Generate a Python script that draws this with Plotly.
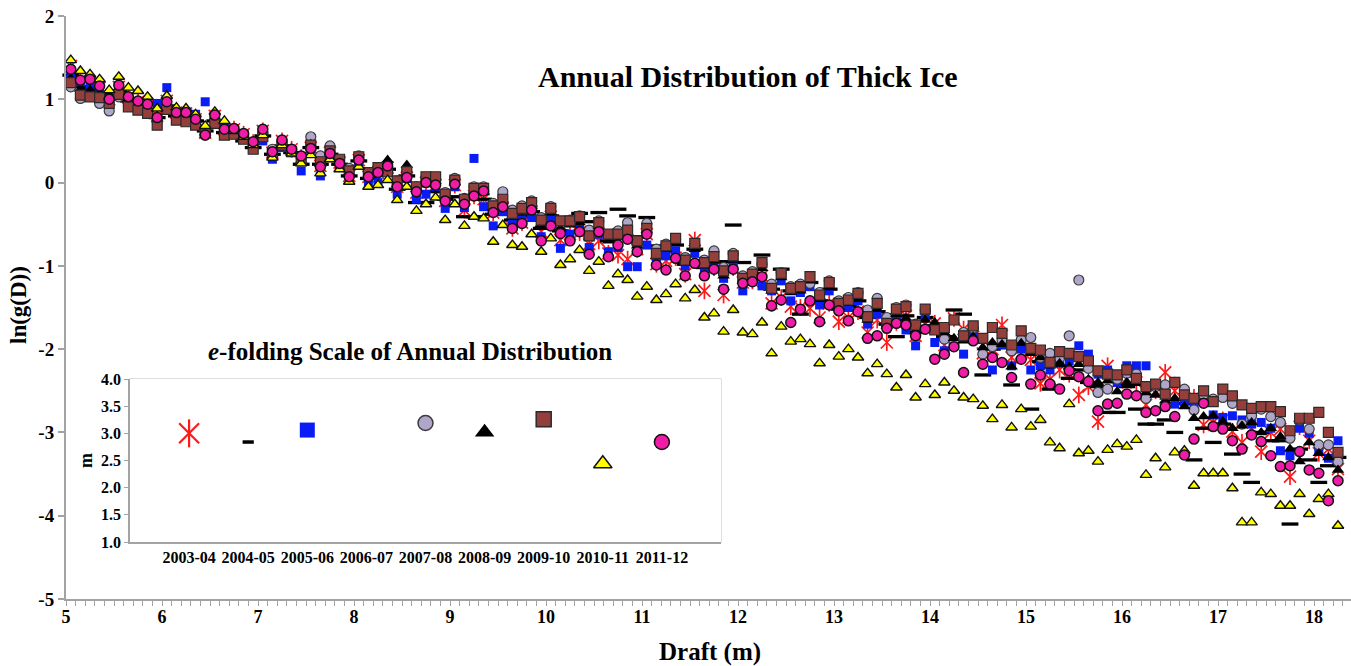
import plotly.graph_objects as go

# Draft bins (m): 0.1 m bins from 5.0 to 18.3, plotted at bin centres
DRAFT = [round(5.05 + 0.1 * i, 2) for i in range(133)]

SEASONS = ["2003-04", "2004-05", "2005-06", "2006-07", "2007-08",
           "2008-09", "2009-10", "2010-11", "2011-12"]

# ln(g(D)) per season, one value per draft bin
LN_G_2003_04 = [
    1.40, 1.20, 1.20, 1.14, 1.00, 1.15, 1.02, 0.97, 0.92, 0.80,
    0.98, 0.84, 0.83, 0.76, 0.60, 0.80, 0.64, 0.64, 0.58, 0.48,
    0.62, 0.36, 0.50, 0.40, 0.30, 0.42, 0.20, 0.36, 0.24, 0.08,
    0.27, 0.07, 0.12, 0.18, -0.05, 0.06, -0.12, 0.00, -0.03, -0.22,
    -0.03, -0.33, -0.16, -0.20, -0.36, -0.30, -0.55, -0.48, -0.35, -0.59,
    -0.41, -0.69, -0.62, -0.60, -0.74, -0.70, -0.85, -0.87, -0.92, -0.80,
    -0.62, -0.98, -0.94, -0.90, -1.10, -0.69, -1.30, -1.02, -1.35,
    -1.02, -1.20, -1.18, -1.12, -1.45, -1.38, -1.49, -1.50, -1.51, -1.62,
    -1.45, -1.67, -1.62, -1.55, -1.80, -1.65, -1.92, -1.68, -1.60, -1.84,
    -1.70, -1.69, -1.95, -1.63, -1.76, -1.85, -2.05, -2.00, -1.71, -2.10,
    -2.05, -2.13, -2.41, -2.36, -2.25, -2.30, -2.55, -2.45, -2.87, -2.20,
    -2.40, -2.35, -2.40, -2.67, -2.50, -2.28, -2.50, -2.60, -2.58, -2.91,
    -2.88, -2.85, -2.99, -3.12, -2.95, -3.23, -3.00, -2.96, -3.53, -2.93,
    -3.10, -3.25, -3.20, -3.44,
]
LN_G_2004_05 = [
    1.29, 1.15, 1.12, 1.08, 1.02, 1.10, 0.98, 0.92, 0.88, 0.78,
    0.92, 0.80, 0.78, 0.74, 0.62, 0.74, 0.60, 0.60, 0.50, 0.42,
    0.56, 0.34, 0.44, 0.36, 0.22, 0.42, 0.22, 0.34, 0.22, 0.08,
    0.26, 0.05, 0.10, 0.16, -0.08, 0.08, -0.24, -0.24, -0.11, -0.20,
    -0.17, -0.41, -0.41, -0.20, -0.38, -0.38, -0.45, -0.40, -0.35, -0.55,
    -0.40, -0.58, -0.52, -0.37, -0.47, -0.36, -0.70, -0.32, -0.40, -0.65,
    -0.42, -0.76, -0.82, -0.75, -0.98, -0.80, -1.02, -0.95, -0.95,
    -0.51, -0.96, -1.12, -0.87, -1.28, -1.04, -1.30, -1.58, -1.20, -1.42,
    -1.28, -1.52, -1.48, -1.42, -1.62, -1.55, -1.70, -1.85, -1.60, -1.80,
    -1.62, -1.72, -1.85, -1.53, -1.58, -1.88, -2.31, -2.00, -1.98, -2.43,
    -2.00, -2.72, -2.15, -2.48, -2.20, -2.35, -2.25, -2.40, -2.45, -2.76,
    -2.76, -2.45, -2.72, -2.90, -2.90, -2.85, -3.00, -2.65, -3.33, -2.95,
    -3.12, -2.90, -3.26, -3.50, -3.60, -3.00, -3.10, -3.10, -4.10, -3.20,
    -3.33, -3.60, -3.40, -3.30,
]
LN_G_2005_06 = [
    1.31, 1.21, 1.16, 1.12, 1.02, 1.12, 0.97, 0.93, 0.90, 0.95,
    1.14, 0.80, 0.85, 0.82, 0.97, 0.72, 0.68, 0.60, 0.55, 0.45,
    0.50, 0.28, 0.42, 0.36, 0.14, 0.40, 0.08, 0.30, 0.18, 0.05,
    0.22, -0.02, 0.00, 0.15, -0.14, 0.05, -0.20, -0.14, -0.05, -0.31,
    -0.05, -0.30, 0.29, -0.29, -0.52, -0.35, -0.50, -0.45, -0.42, -0.65,
    -0.45, -0.79, -0.62, -0.55, -0.78, -0.62, -0.83, -0.78, -1.01, -1.01,
    -0.75, -0.90, -0.88, -0.82, -1.00, -0.85, -1.05, -0.98, -1.15,
    -0.97, -1.30, -1.15, -1.24, -1.30, -1.18, -1.42, -1.32, -1.25, -1.47,
    -1.30, -1.50, -1.50, -1.42, -1.70, -1.58, -1.62, -1.65, -1.77, -1.96,
    -1.62, -1.92, -2.02, -1.95, -2.06, -1.85, -2.05, -2.25, -1.95, -2.20,
    -2.00, -2.25, -2.20, -2.25, -2.15, -2.14, -1.96, -2.06, -2.30, -2.25,
    -2.40, -2.20, -2.20, -2.20, -2.45, -2.55, -2.66, -2.63, -2.70, -2.62,
    -2.79, -2.82, -2.80, -2.85, -2.90, -2.88, -2.95, -3.22, -3.28, -2.95,
    -3.01, -3.21, -3.31, -3.10,
]
LN_G_2007_08 = [
    1.15, 1.01, 1.05, 0.95, 0.86, 1.03, 0.92, 0.90, 0.85, 0.74,
    0.92, 0.80, 0.78, 0.72, 0.62, 0.76, 0.62, 0.61, 0.55, 0.45,
    0.60, 0.40, 0.48, 0.40, 0.30, 0.55, 0.32, 0.44, 0.27, 0.17,
    0.32, 0.12, 0.18, 0.22, 0.02, 0.12, -0.05, 0.06, 0.05, -0.12,
    0.05, -0.19, -0.05, -0.05, -0.25, -0.11, -0.33, -0.28, -0.22, -0.42,
    -0.29, -0.51, -0.45, -0.40, -0.57, -0.46, -0.65, -0.58, -0.48, -0.73,
    -0.49, -0.80, -0.74, -0.68, -0.90, -0.75, -0.93, -0.82, -1.02,
    -0.85, -1.12, -1.07, -0.98, -1.22, -1.08, -1.25, -1.22, -1.21, -1.32,
    -1.18, -1.42, -1.38, -1.32, -1.53, -1.39, -1.62, -1.50, -1.47, -1.70,
    -1.53, -1.73, -1.88, -1.92, -1.80, -1.75, -2.06, -1.97, -1.89, -2.02,
    -1.89, -1.86, -2.10, -2.05, -2.11, -1.84, -1.17, -2.23, -2.52, -2.48,
    -2.36, -2.29, -2.30, -2.59, -2.45, -2.43, -2.40, -2.48, -2.73, -2.55,
    -2.60, -2.58, -2.65, -2.90, -2.80, -2.72, -2.81, -2.88, -3.07, -2.85,
    -2.96, -3.15, -3.15, -3.35,
]
LN_G_2008_09 = [
    1.25, 1.12, 1.11, 1.07, 1.05, 1.13, 1.00, 0.95, 0.90, 0.80,
    0.93, 0.82, 0.80, 0.75, 0.60, 0.76, 0.62, 0.62, 0.53, 0.44,
    0.58, 0.35, 0.46, 0.38, 0.24, 0.46, 0.22, 0.36, 0.24, 0.12,
    0.29, 0.08, 0.14, 0.27, -0.02, 0.21, -0.08, 0.02, 0.02, -0.17,
    0.00, -0.22, -0.10, -0.12, -0.30, -0.22, -0.40, -0.35, -0.28, -0.50,
    -0.36, -0.55, -0.50, -0.48, -0.66, -0.52, -0.70, -0.66, -0.60, -0.76,
    -0.57, -0.88, -0.80, -0.73, -0.97, -0.80, -1.00, -0.94, -1.12,
    -0.93, -1.18, -1.13, -1.03, -1.30, -1.14, -1.32, -1.30, -1.18, -1.40,
    -1.26, -1.50, -1.45, -1.40, -1.65, -1.52, -1.72, -1.58, -1.63, -1.78,
    -1.65, -1.68, -1.80, -1.87, -1.90, -1.85, -1.98, -1.92, -1.94, -2.21,
    -1.93, -2.05, -2.10, -2.20, -2.17, -2.21, -2.18, -2.36, -2.40, -2.38,
    -2.51, -2.40, -2.41, -2.52, -2.55, -2.62, -2.59, -2.69, -2.83, -2.81,
    -2.80, -2.87, -2.95, -2.92, -2.88, -3.00, -2.95, -3.05, -3.20, -3.35,
    -3.12, -3.25, -3.30, -3.45,
]
LN_G_2009_10 = [
    1.20, 1.05, 1.03, 1.02, 0.95, 1.06, 0.91, 0.87, 0.83, 0.69,
    0.88, 0.75, 0.73, 0.69, 0.60, 0.71, 0.57, 0.58, 0.52, 0.40,
    0.55, 0.35, 0.45, 0.37, 0.28, 0.45, 0.25, 0.38, 0.28, 0.14,
    0.31, 0.12, 0.18, 0.13, 0.02, 0.13, -0.05, 0.07, 0.07, -0.14,
    0.03, -0.20, -0.07, -0.07, -0.28, -0.20, -0.37, -0.31, -0.24, -0.45,
    -0.31, -0.46, -0.46, -0.41, -0.64, -0.48, -0.62, -0.62, -0.57, -0.70,
    -0.55, -0.85, -0.76, -0.67, -0.93, -0.73, -0.96, -0.89, -1.06,
    -0.88, -1.15, -1.10, -0.96, -1.27, -1.09, -1.27, -1.25, -1.13, -1.35,
    -1.20, -1.45, -1.41, -1.33, -1.61, -1.45, -1.69, -1.52, -1.49, -1.71,
    -1.52, -1.77, -1.74, -1.65, -1.84, -1.72, -1.87, -1.74, -1.81, -1.95,
    -1.78, -1.99, -2.01, -2.16, -2.03, -2.05, -2.09, -2.14, -2.26, -2.30,
    -2.31, -2.25, -2.35, -2.45, -2.42, -2.54, -2.40, -2.55, -2.59, -2.50,
    -2.63, -2.48, -2.56, -2.67, -2.71, -2.69, -2.69, -2.75, -2.98, -2.83,
    -2.83, -2.76, -3.00, -3.24,
]
LN_G_2010_11 = [
    1.47, 1.34, 1.30, 1.24, 1.11, 1.27, 1.14, 1.10, 1.03, 0.89,
    1.04, 0.90, 0.89, 0.82, 0.68, 0.85, 0.74, 0.62, 0.55, 0.45,
    0.57, 0.30, 0.45, 0.35, 0.23, 0.33, 0.11, 0.28, 0.16, 0.01,
    0.19, -0.05, -0.03, 0.03, -0.21, -0.05, -0.34, -0.26, -0.18, -0.45,
    -0.26, -0.52, -0.41, -0.43, -0.71, -0.51, -0.75, -0.77, -0.62, -0.83,
    -0.67, -0.99, -0.92, -0.81, -1.06, -0.95, -1.24, -1.10, -1.17, -1.37,
    -1.25, -1.41, -1.34, -1.22, -1.39, -1.29, -1.62, -1.57, -1.79,
    -1.53, -1.80, -1.82, -1.68, -2.05, -1.73, -1.91, -1.88, -1.94, -2.17,
    -1.95, -2.09, -2.00, -2.10, -2.29, -2.18, -2.30, -2.46, -2.31, -2.58,
    -2.42, -2.55, -2.40, -2.50, -2.58, -2.60, -2.68, -2.84, -2.67, -2.94,
    -2.72, -2.93, -2.85, -3.12, -3.19, -2.66, -3.25, -3.22, -3.35, -3.21,
    -3.14, -3.17, -3.09, -3.51, -3.31, -3.42, -3.24, -3.22, -3.64, -3.49,
    -3.49, -3.49, -3.67, -4.08, -4.08, -3.72, -3.74, -3.88, -3.88, -3.74,
    -3.98, -3.80, -3.74, -4.12,
]
LN_G_2011_12 = [
    1.36, 1.23, 1.24, 1.16, 1.00, 1.17, 1.03, 0.98, 0.94, 0.78,
    0.97, 0.84, 0.84, 0.76, 0.57, 0.81, 0.64, 0.65, 0.59, 0.49,
    0.64, 0.37, 0.51, 0.40, 0.32, 0.41, 0.19, 0.35, 0.23, 0.07,
    0.27, 0.07, 0.12, 0.20, -0.05, 0.06, -0.11, 0.00, -0.03, -0.22,
    -0.02, -0.26, -0.16, -0.10, -0.36, -0.29, -0.55, -0.49, -0.33, -0.70,
    -0.52, -0.61, -0.70, -0.59, -0.86, -0.59, -0.89, -0.75, -0.68, -0.83,
    -0.62, -0.99, -1.05, -0.91, -1.12, -0.97, -1.12, -1.04, -1.28,
    -1.04, -1.21, -1.19, -1.13, -1.48, -1.41, -1.68, -1.52, -1.42, -1.67,
    -1.47, -1.54, -1.66, -1.55, -1.87, -1.84, -1.75, -1.69, -1.71, -1.84,
    -1.76, -2.12, -2.06, -1.97, -2.28, -1.90, -2.18, -2.10, -2.16, -2.34,
    -2.12, -2.42, -2.31, -2.42, -2.48, -2.26, -2.33, -2.39, -2.74, -2.66,
    -2.65, -2.54, -2.56, -2.76, -2.74, -2.69, -2.81, -3.27, -3.08, -2.65,
    -2.93, -2.96, -3.10, -3.20, -3.03, -3.11, -3.28, -3.41, -3.40, -3.23,
    -3.45, -3.49, -3.82, -3.58,
]

# e-folding scale (m) of each season's distribution; 2006-07 has no data
EFOLD_M = [3.00, 2.84, 3.06, None, 3.19, 3.02, 3.26, 2.44, 2.84]

SERIES = {
    "2003-04": LN_G_2003_04,
    "2004-05": LN_G_2004_05,
    "2005-06": LN_G_2005_06,
    "2007-08": LN_G_2007_08,
    "2008-09": LN_G_2008_09,
    "2009-10": LN_G_2009_10,
    "2010-11": LN_G_2010_11,
    "2011-12": LN_G_2011_12,
}

FONT = "Liberation Serif"
AXIS_GREY = "#a3a3a3"

# marker look per season:
# (symbols, fill, edge colour, edge width main, edge width inset, size main, size inset)
STYLE = {
    "2003-04": (["x-thin-open", "line-ns-open"], "#ff1a1a", "#ff1a1a", 1.7, 2.2, 12, 20),
    "2004-05": (["line-ew-open"], "#000000", "#000000", 3.3, 3.5, 12, 8),
    "2005-06": (["square"], "#0a1cf5", "#0a1cf5", 0, 0, 9, 15),
    "2007-08": (["circle"], "#b0a6c9", "#3a3a3a", 1.2, 1.5, 10, 15),
    "2008-09": (["triangle-up"], "#000000", "#000000", 0, 0, 11, 17),
    "2009-10": (["square"], "#943f3b", "#2a2a2a", 1.2, 1.5, 10, 15),
    "2010-11": (["triangle-up"], "#ffff00", "#111111", 1.4, 1.5, 10, 16),
    "2011-12": (["circle"], "#f01ca6", "#111111", 1.5, 1.5, 10, 15),
}

fig = go.Figure()


def marker(symbol, fill, edge, width, size):
    if symbol.endswith("-open"):
        return dict(symbol=symbol, size=size, color=edge,
                    line=dict(color=edge, width=width))
    return dict(symbol=symbol, size=size, color=fill,
                line=dict(color=edge, width=width))


# main scatter: draft vs ln(g(D))
for season, values in SERIES.items():
    symbols, fill, edge, width, _, size, _ = STYLE[season]
    for sym in symbols:
        fig.add_trace(go.Scatter(
            x=DRAFT, y=values, mode="markers", name=season,
            marker=marker(sym, fill, edge, width, size),
            cliponaxis=False, showlegend=False, hoverinfo="x+y+name",
        ))

# inset: e-folding scale per season
for season, value in zip(SEASONS, EFOLD_M):
    if value is None:
        continue
    symbols, fill, edge, _, width, _, size = STYLE[season]
    for sym in symbols:
        fig.add_trace(go.Scatter(
            x=[season], y=[value], mode="markers", name=season,
            xaxis="x2", yaxis="y2",
            marker=marker(sym, fill, edge, width, size),
            cliponaxis=False, showlegend=False,
        ))

# plot area: x from 66 to 1351 px, y from 16 to 599 px
L_PX, R_PX, T_PX, B_PX = 66, 1351, 16, 599
W_PX, H_PX = R_PX - L_PX, B_PX - T_PX


def px_x(px):
    return (px - L_PX) / W_PX


def px_y(py):
    return (B_PX - py) / H_PX


INSET_X = [px_x(130), px_x(721)]
INSET_Y = [px_y(542), px_y(379)]

Y_TICKS = [2, 1, 0, -1, -2, -3, -4, -5]
X_TICKS = list(range(5, 19))
INSET_Y_TICKS = [1.0, 1.5, 2.0, 2.5, 3.0, 3.5, 4.0]

bold = dict(family=FONT, color="black", weight="bold")


def label(text, px, py, size, angle=0):
    return dict(text=text, x=px_x(px), y=px_y(py), xref="paper", yref="paper",
                xanchor="center", yanchor="middle", textangle=angle,
                showarrow=False, font=dict(size=size, **bold))


fig.update_layout(
    width=1351, height=666,
    margin=dict(l=L_PX, r=1351 - R_PX, t=T_PX, b=666 - B_PX),
    paper_bgcolor="white", plot_bgcolor="white",
    font=dict(family=FONT, color="black"),
    xaxis=dict(
        range=[5, 5 + W_PX / 96.0], showgrid=False, zeroline=False,
        showline=True, linecolor=AXIS_GREY, linewidth=2,
        tickmode="array", tickvals=X_TICKS, ticktext=[str(t) for t in X_TICKS],
        ticks="outside", ticklen=5, tickwidth=1, tickcolor=AXIS_GREY,
        ticklabelstandoff=-5,
        minor=dict(dtick=0.1, tick0=5, ticks="outside", ticklen=5,
                   tickwidth=1, tickcolor=AXIS_GREY, showgrid=False),
        tickfont=dict(size=18, **bold),
    ),
    yaxis=dict(
        range=[-5, 2], showgrid=False, zeroline=False,
        showline=True, linecolor=AXIS_GREY, linewidth=2,
        tickmode="array", tickvals=Y_TICKS, ticktext=[str(t) for t in Y_TICKS],
        ticks="outside", ticklen=6, tickwidth=1.5, tickcolor=AXIS_GREY,
        tickfont=dict(size=19, **bold),
    ),
    xaxis2=dict(
        domain=INSET_X, anchor="y2", type="category",
        categoryorder="array", categoryarray=SEASONS, range=[-1, 9],
        showgrid=False, zeroline=False, showline=True,
        linecolor=AXIS_GREY, linewidth=1.5, ticks="",
        tickfont=dict(size=16, **bold),
    ),
    yaxis2=dict(
        domain=INSET_Y, anchor="x2", range=[1, 4],
        tickmode="array", tickvals=INSET_Y_TICKS,
        ticktext=[f"{t:.1f}" for t in INSET_Y_TICKS],
        showgrid=False, zeroline=False, showline=True,
        linecolor=AXIS_GREY, linewidth=1.5,
        ticks="outside", ticklen=4, tickcolor=AXIS_GREY,
        tickfont=dict(size=16, **bold),
    ),
    shapes=[dict(
        type="rect", xref="paper", yref="paper",
        x0=INSET_X[0], x1=INSET_X[1], y0=INSET_Y[0], y1=INSET_Y[1],
        line=dict(color="#d4d4d4", width=1.5), fillcolor="rgba(0,0,0,0)",
        layer="below",
    )],
    annotations=[
        label("Annual Distribution of Thick Ice", 748, 76, 30),
        label("<i>e</i>-folding Scale of Annual Distribution", 410, 351, 25),
        label("ln(g(D))", 18, 305, 23, -90),
        label("Draft (m)", 710, 652, 25),
        label("m", 86, 461, 18, -90),
    ],
)

fig.write_html("out.html")
